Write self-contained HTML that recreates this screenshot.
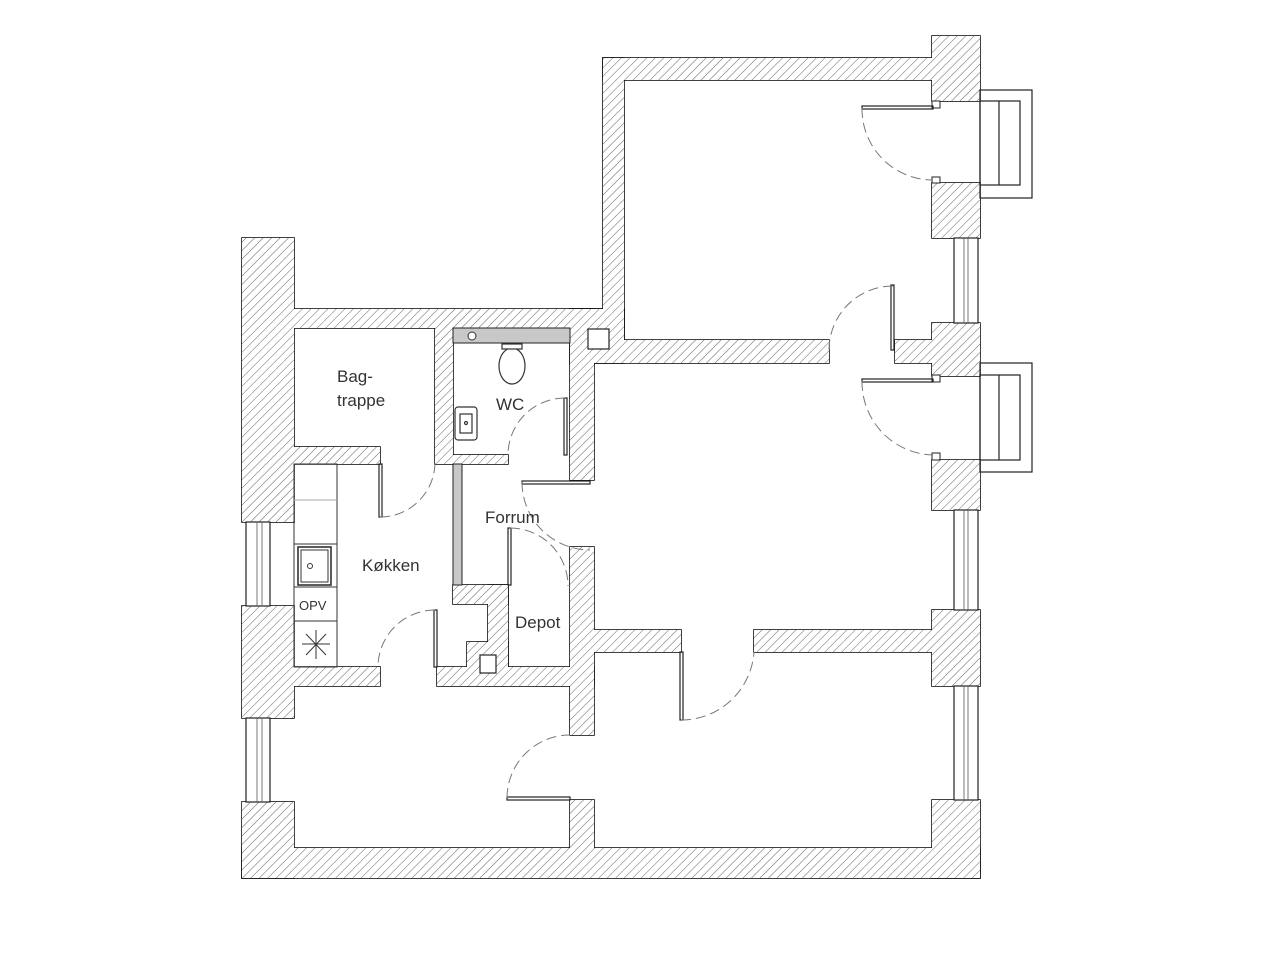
<!DOCTYPE html>
<html><head><meta charset="utf-8"><style>
html,body{margin:0;padding:0;background:#fff;}
svg{display:block;}
text{font-family:"Liberation Sans",sans-serif;fill:#333;}
</style></head><body>
<svg width="1280" height="960" viewBox="0 0 1280 960" xmlns="http://www.w3.org/2000/svg">
<defs>
<pattern id="h" patternUnits="userSpaceOnUse" width="6" height="6" patternTransform="rotate(45)">
<rect width="6" height="6" fill="#fff"/>
<line x1="0" y1="0" x2="0" y2="6" stroke="#666" stroke-width="1"/>
</pattern>
<g id="walls">
<rect x="242" y="238" width="52" height="284"/>
<rect x="242" y="606" width="52" height="112"/>
<rect x="242" y="802" width="52" height="76"/>
<rect x="242" y="848" width="738" height="30"/>
<rect x="932" y="36" width="48" height="65"/>
<rect x="932" y="183" width="48" height="55"/>
<rect x="932" y="323" width="48" height="53"/>
<rect x="932" y="460" width="48" height="50"/>
<rect x="932" y="610" width="48" height="76"/>
<rect x="932" y="800" width="48" height="78"/>
<rect x="603" y="58" width="330" height="22"/>
<rect x="603" y="58" width="21" height="282"/>
<rect x="294" y="309" width="330" height="19"/>
<rect x="570" y="309" width="54" height="54"/>
<rect x="594" y="340" width="235" height="23"/>
<rect x="895" y="340" width="38" height="23"/>
<rect x="570" y="309" width="24" height="171"/>
<rect x="435" y="328" width="18" height="136"/>
<rect x="453" y="455" width="55" height="9"/>
<rect x="294" y="447" width="86" height="17"/>
<rect x="294" y="667" width="86" height="19"/>
<rect x="453" y="585" width="55" height="19"/>
<rect x="488" y="585" width="20" height="82"/>
<rect x="467" y="642" width="41" height="25"/>
<rect x="437" y="667" width="157" height="19"/>
<rect x="570" y="547" width="24" height="188"/>
<rect x="594" y="630" width="87" height="22"/>
<rect x="754" y="630" width="179" height="22"/>
<rect x="570" y="800" width="24" height="48"/>
</g>
</defs>
<rect width="1280" height="960" fill="#fff"/>
<use href="#walls" fill="none" stroke="#111" stroke-width="1.6"/>
<use href="#walls" fill="url(#h)" stroke="none"/>

<rect x="588" y="329" width="21" height="20" fill="#fff" stroke="#222" stroke-width="1.2"/>
<rect x="480" y="655" width="16" height="18" fill="#fff" stroke="#222" stroke-width="1.2"/>

<rect x="453" y="328" width="117" height="15" fill="#c8c8c8" stroke="#222" stroke-width="1"/>
<circle cx="472" cy="336" r="4" fill="#fff" stroke="#333"/>
<rect x="453" y="464" width="9" height="121" fill="#c8c8c8" stroke="#222" stroke-width="1"/>

<g fill="#fff" stroke="#222" stroke-width="1.2">
<rect x="246" y="522" width="24" height="84"/>
<rect x="246" y="718" width="24" height="84"/>
<rect x="954" y="238" width="24" height="85"/>
<rect x="954" y="510" width="24" height="100"/>
<rect x="954" y="686" width="24" height="114"/>
</g>
<g stroke="#555" stroke-width="0.8">
<line x1="257" y1="522" x2="257" y2="606"/><line x1="262" y1="522" x2="262" y2="606"/>
<line x1="257" y1="718" x2="257" y2="802"/><line x1="262" y1="718" x2="262" y2="802"/>
<line x1="964" y1="238" x2="964" y2="323"/><line x1="968" y1="238" x2="968" y2="323"/>
<line x1="964" y1="510" x2="964" y2="610"/><line x1="968" y1="510" x2="968" y2="610"/>
<line x1="964" y1="686" x2="964" y2="800"/><line x1="968" y1="686" x2="968" y2="800"/>
</g>

<g fill="none" stroke="#222" stroke-width="1.2">
<rect x="980" y="90" width="52" height="108"/>
<rect x="980" y="101" width="40" height="84"/>
<line x1="999" y1="101" x2="999" y2="185"/>
<rect x="980" y="363" width="52" height="109"/>
<rect x="980" y="375" width="40" height="85"/>
<line x1="999" y1="375" x2="999" y2="460"/>
</g>
<g fill="#fff" stroke="#222" stroke-width="1">
<rect x="932" y="101" width="8" height="7"/><rect x="932" y="177" width="8" height="6"/>
<rect x="932" y="375" width="8" height="7"/><rect x="932" y="453" width="8" height="7"/>
</g>

<g fill="none" stroke="#222" stroke-width="1.2">
<rect x="862" y="106" width="71" height="3"/>
<rect x="862" y="379" width="71" height="3"/>
<rect x="891" y="285" width="3" height="65"/>
<rect x="379" y="464" width="3" height="53"/>
<rect x="434" y="610" width="3" height="57"/>
<rect x="564" y="398" width="3" height="57"/>
<rect x="522" y="481" width="68" height="3"/>
<rect x="508" y="528" width="3" height="57"/>
<rect x="680" y="652" width="3" height="68"/>
<rect x="507" y="797" width="63" height="3"/>
</g>
<g fill="none" stroke="#777" stroke-width="1" stroke-dasharray="10,5">
<path d="M862 108 A71 71 0 0 0 933 180"/>
<path d="M862 381 A73 73 0 0 0 933 455"/>
<path d="M893 286 A64 64 0 0 0 829 350"/>
<path d="M380 517 A55 55 0 0 0 435 462"/>
<path d="M435 610 A57 57 0 0 0 378 667"/>
<path d="M565 398 A57 57 0 0 0 508 455"/>
<path d="M522 482 A68 68 0 0 0 590 550"/>
<path d="M510 528 A58 58 0 0 1 568 586"/>
<path d="M681 720 A73 73 0 0 0 754 652"/>
<path d="M507 798 A63 63 0 0 1 570 735"/>
</g>

<g fill="none" stroke="#333" stroke-width="1">
<rect x="294" y="464" width="43" height="203"/>
<line x1="294" y1="500" x2="337" y2="500" stroke="#aaa"/>
<line x1="294" y1="544" x2="337" y2="544"/>
<line x1="294" y1="587" x2="337" y2="587"/>
<line x1="294" y1="621" x2="337" y2="621"/>
<rect x="298" y="547" width="33" height="38" stroke-width="1.6"/>
<rect x="301" y="550" width="27" height="32"/>
<circle cx="310" cy="566" r="2.5"/>
<line x1="316" y1="630" x2="316" y2="659"/>
<line x1="302" y1="644" x2="330" y2="644"/>
<line x1="306" y1="634" x2="326" y2="655"/>
<line x1="326" y1="634" x2="306" y2="655"/>
</g>
<g fill="#fff" stroke="#333" stroke-width="1.2">
<ellipse cx="512" cy="366" rx="13" ry="18"/>
<rect x="502" y="344" width="20" height="5"/>
<rect x="455" y="407" width="22" height="33" rx="3"/>
<rect x="460" y="414" width="12" height="19"/>
<circle cx="466" cy="423" r="1.5"/>
</g>

<text x="337" y="382" font-size="17">Bag-</text>
<text x="337" y="406" font-size="17">trappe</text>
<text x="496" y="410" font-size="17">WC</text>
<text x="485" y="523" font-size="17">Forrum</text>
<text x="362" y="571" font-size="17">Køkken</text>
<text x="515" y="628" font-size="17">Depot</text>
<text x="299" y="610" font-size="13">OPV</text>
</svg>
</body></html>
